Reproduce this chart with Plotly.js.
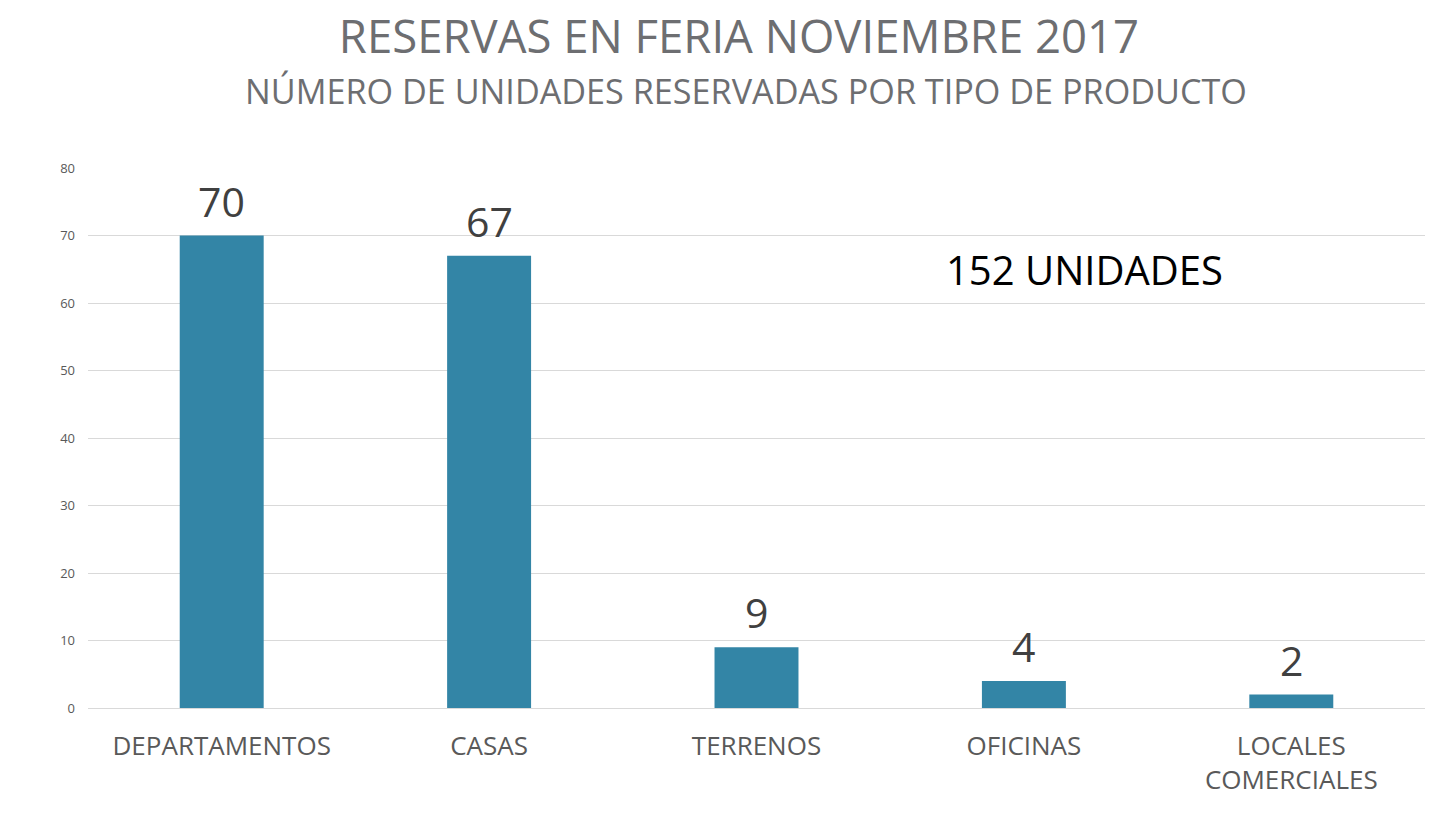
<!DOCTYPE html>
<html>
<head>
<meta charset="utf-8">
<script src="https://cdn.plot.ly/plotly-3.0.1.min.js"></script>
<style>html,body{margin:0;padding:0;background:#fff;}#chart{width:1431px;height:815px;}</style>
</head>
<body>
<div id="chart"></div>
<script>
const categories = ["DEPARTAMENTOS", "CASAS", "TERRENOS", "OFICINAS", "LOCALES<br>COMERCIALES"];
const values = [70, 67, 9, 4, 2];
const yTicks = [0, 10, 20, 30, 40, 50, 60, 70, 80];
const titleText = "RESERVAS EN FERIA NOVIEMBRE 2017";
const subtitleText = "NÚMERO DE UNIDADES RESERVADAS POR TIPO DE PRODUCTO";
const totalText = "152 UNIDADES";

const FONT = "Open Sans, Noto Sans, sans-serif";

const trace = {
  type: "bar",
  x: categories,
  y: values,
  marker: {color: "#3385a6"},
  hoverinfo: "x+y"
};

const annotations = categories.map((c, i) => ({
  x: c, y: values[i], xref: "x", yref: "y",
  text: String(values[i]), showarrow: false,
  yanchor: "bottom", yshift: 5,
  font: {family: FONT, size: 41, color: "#404040"}
}));
annotations.push({
  x: 3.227, y: 64.9, xref: "x", yref: "y", text: totalText, showarrow: false,
  xanchor: "center", yanchor: "middle",
  font: {family: FONT, size: 40, color: "#000000"}
});
annotations.push({
  x: 0.4921, y: 1.144, xref: "paper", yref: "paper", yanchor: "middle",
  xanchor: "center", showarrow: false, text: subtitleText,
  font: {family: FONT, size: 34.2, color: "#6d6e71"}
});

const layout = {
  width: 1431, height: 815,
  margin: {l: 88, r: 6, t: 168, b: 107},
  paper_bgcolor: "#ffffff", plot_bgcolor: "#ffffff",
  showlegend: false,
  bargap: 0.686,
  title: {
    text: titleText,
    x: 0.5164, xanchor: "center", y: 0.9546, yanchor: "middle",
    font: {family: FONT, size: 45.5, color: "#6d6e71"}
  },
  xaxis: {
    type: "category",
    tickfont: {family: FONT, size: 26, color: "#595959"},
    showgrid: false, zeroline: false, showline: false,
    ticks: "", ticklabelstandoff: 20
  },
  yaxis: {
    range: [0, 80], tickvals: yTicks, ticktext: yTicks.map(String),
    showgrid: true, gridcolor: "#d9d9d9", gridwidth: 1,
    zeroline: true, zerolinecolor: "#d9d9d9", zerolinewidth: 1,
    showline: false, ticks: "",
    tickfont: {family: FONT, size: 13, color: "#595959"},
    ticklabelstandoff: 12
  },
  annotations: annotations
};

Plotly.newPlot("chart", [trace], layout, {displayModeBar: false});
</script>
</body>
</html>
